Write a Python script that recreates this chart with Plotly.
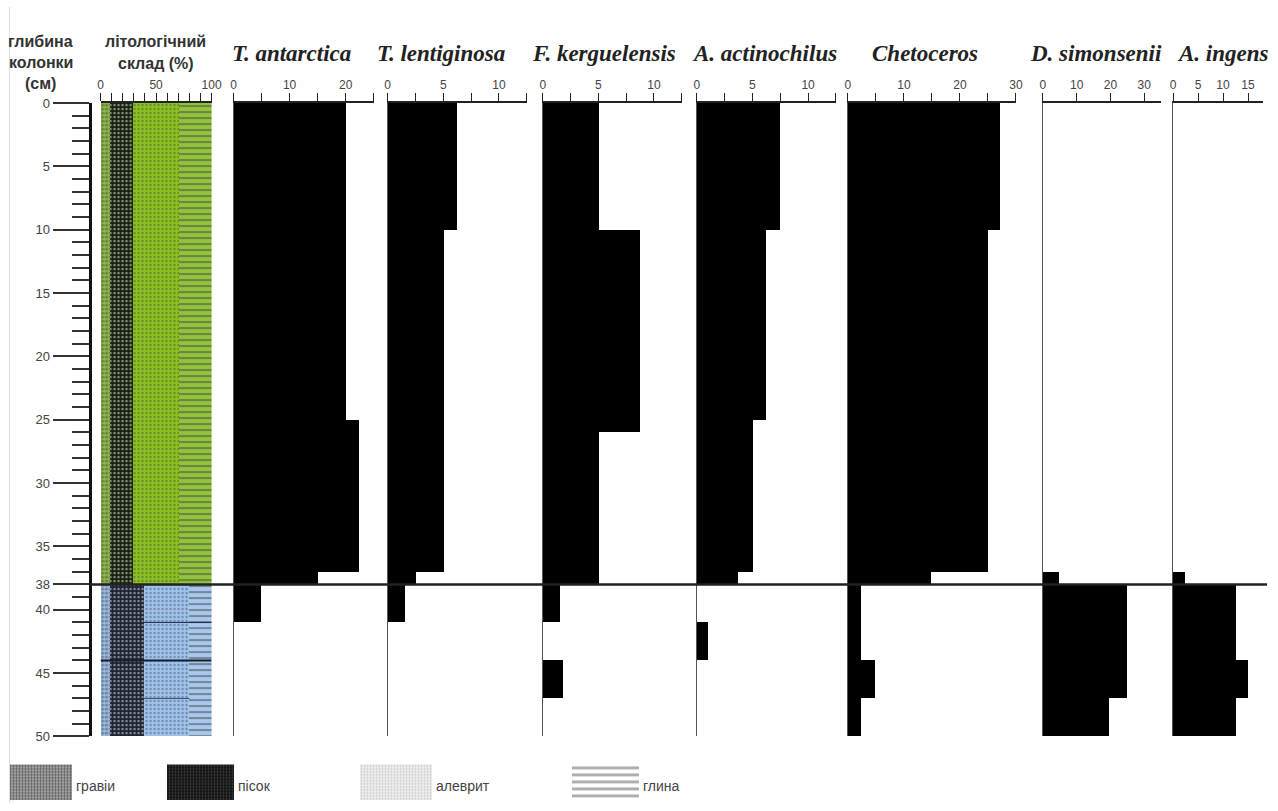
import plotly.graph_objects as go

W, H = 1278, 811
# small correction so that the photographed page lines up with the reference pixels
AX, BX = 0.9894, 2.5
AY, BY = 0.981, 6.96


def fx(p):
    return ((p - BX) / AX) / W


def fy(p):
    return 1 - ((p - BY) / AY) / H


# ---------------- data ----------------
depth_tickvals = [0, 5, 10, 15, 20, 25, 30, 35, 38, 40, 45, 50]
boundary_depth = 38

# lithology (%), two intervals
lith_top = [0, 38]
lith_bottom = [38, 50]
gravel = [8, 8]
sand = [21, 31]
silt = [41, 40]
clay = [30, 21]
lith_names = ["гравіи", "пісок", "алеврит", "глина"]

taxa_names = ["T. antarctica", "T. lentiginosa", "F. kerguelensis", "A. actinochilus",
              "Chetoceros", "D. simonsenii", "A. ingens"]

t_antarctica_top = [0, 25, 37, 38]
t_antarctica_bot = [25, 37, 38, 41]
t_antarctica_val = [20, 22.3, 15, 4.8]

t_lentiginosa_top = [0, 10, 37, 38]
t_lentiginosa_bot = [10, 37, 38, 41]
t_lentiginosa_val = [6.2, 5, 2.5, 1.5]

f_kerguelensis_top = [0, 10, 26, 38, 44]
f_kerguelensis_bot = [10, 26, 38, 41, 47]
f_kerguelensis_val = [5, 8.7, 5, 1.5, 1.8]

a_actinochilus_top = [0, 10, 25, 37, 41]
a_actinochilus_bot = [10, 25, 37, 38, 44]
a_actinochilus_val = [7.5, 6.2, 5, 3.7, 1]

chetoceros_top = [0, 10, 37, 38, 44, 47]
chetoceros_bot = [10, 37, 38, 44, 47, 50]
chetoceros_val = [27.2, 24.9, 14.9, 2.3, 4.8, 2.3]

d_simonsenii_top = [37, 38, 47]
d_simonsenii_bot = [38, 47, 50]
d_simonsenii_val = [4.7, 24.8, 19.6]

a_ingens_top = [37, 38, 44, 47]
a_ingens_bot = [38, 44, 47, 50]
a_ingens_val = [2.4, 12.5, 15, 12.5]

taxa_data = [
    (t_antarctica_top, t_antarctica_bot, t_antarctica_val),
    (t_lentiginosa_top, t_lentiginosa_bot, t_lentiginosa_val),
    (f_kerguelensis_top, f_kerguelensis_bot, f_kerguelensis_val),
    (a_actinochilus_top, a_actinochilus_bot, a_actinochilus_val),
    (chetoceros_top, chetoceros_bot, chetoceros_val),
    (d_simonsenii_top, d_simonsenii_bot, d_simonsenii_val),
    (a_ingens_top, a_ingens_bot, a_ingens_val),
]

# axis tick definitions per taxon
taxa_tickvals = [
    [0, 5, 10, 15, 20, 25],
    [0, 2.5, 5, 7.5, 10, 12.5],
    [0, 2.5, 5, 7.5, 10, 12.5],
    [0, 2.5, 5, 7.5, 10, 12.5],
    [0, 5, 10, 15, 20, 25, 30],
    [0, 10, 20, 30],
    [0, 5, 10, 15],
]
taxa_ticktext = [
    ["0", "", "10", "", "20", ""],
    ["0", "", "5", "", "10", ""],
    ["0", "", "5", "", "10", ""],
    ["0", "", "5", "", "10", ""],
    ["0", "", "10", "", "20", "", "30"],
    ["0", "10", "20", "30"],
    ["0", "5", "10", "15"],
]
taxa_range_max = [25, 12.5, 12.5, 12.5, 30, 35, 18]

# ---------------- layout / style (reference pixels) ----------------
PLOT_TOP, PLOT_BOT = 103, 736
taxa_px = [(233, 373), (387, 526), (542, 681), (696, 835), (847, 1015), (1042, 1160), (1172, 1262)]
taxa_title_x = [291, 440, 603, 764, 924, 1095, 1222]
lith_px = (100, 211)
depth_axis_x = 89

SANS = "Liberation Sans, Arial, sans-serif"
SERIF = "Liberation Serif, Times New Roman, serif"

upper_style = dict(
    gravel=dict(bg="#8dbb45", fg="#18280a", shape=".", size=4, sol=0.5),
    sand=dict(bg="#141f0a", fg="#587d2c", shape=".", size=4, sol=0.3),
    silt=dict(bg="#8cc21e", fg="#5a8a12", shape=".", size=4, sol=0.25),
    clay=dict(bg="#92c43a", fg="#2c5410", shape="-", size=6, sol=0.35),
)
lower_style = dict(
    gravel=dict(bg="#9dbde6", fg="#1a2238", shape=".", size=4, sol=0.5),
    sand=dict(bg="#1a2030", fg="#5b6f94", shape=".", size=4, sol=0.3),
    silt=dict(bg="#9dc3ef", fg="#5c80b8", shape=".", size=4, sol=0.25),
    clay=dict(bg="#a8c8ef", fg="#1f3150", shape="-", size=6, sol=0.35),
)

fig = go.Figure()

# ---- lithology column ----
comps = [("gravel", gravel), ("sand", sand), ("silt", silt), ("clay", clay)]
cum = [0.0] * len(lith_top)
for key, vals in comps:
    mids = [(a + b) / 2 for a, b in zip(lith_top, lith_bottom)]
    thick = [b - a for a, b in zip(lith_top, lith_bottom)]
    styles = [upper_style[key], lower_style[key]]
    fig.add_trace(go.Bar(
        orientation="h", x=vals, y=mids, base=list(cum), width=thick,
        xaxis="x", yaxis="y", showlegend=False, hoverinfo="skip",
        marker=dict(
            color=[s["bg"] for s in styles],
            line=dict(width=0),
            pattern=dict(
                shape=[s["shape"] for s in styles],
                fgcolor=[s["fg"] for s in styles],
                bgcolor=[s["bg"] for s in styles],
                size=[s["size"] for s in styles],
                solidity=[s["sol"] for s in styles],
                fillmode="overlay",
            ),
        ),
    ))
    cum = [c + v for c, v in zip(cum, vals)]

# ---- taxa bars ----
for i, (tops, bots, vals) in enumerate(taxa_data):
    k = i + 2
    fig.add_trace(go.Bar(
        orientation="h", x=vals,
        y=[(a + b) / 2 for a, b in zip(tops, bots)],
        width=[b - a for a, b in zip(tops, bots)],
        base=[0] * len(vals),
        xaxis=f"x{k}", yaxis=f"y{k}", showlegend=False,
        marker=dict(color="black", line=dict(width=0)),
        name=taxa_names[i],
    ))

# ---- legend swatches (hidden axis in reference-pixel units) ----
leg_x = [(9, 71), (166, 233), (359, 431), (571, 638)]
leg_styles = [
    dict(bg="#b8b8b8", fg="#000000", shape=".", size=3, sol=0.5),
    dict(bg="#111111", fg="#707070", shape=".", size=3, sol=0.35),
    dict(bg="#f0f0f0", fg="#a0a0a0", shape=".", size=3, sol=0.35),
    dict(bg="#ffffff", fg="#555555", shape="-", size=7, sol=0.4),
]
for (x0, x1), st, nm in zip(leg_x, leg_styles, lith_names):
    fig.add_trace(go.Bar(
        orientation="h", x=[x1 - x0], base=[x0], y=[0.5], width=[1],
        xaxis="x9", yaxis="y9", showlegend=False, hoverinfo="skip",
        marker=dict(color=st["bg"], line=dict(width=0),
                    pattern=dict(shape=st["shape"], fgcolor=st["fg"], bgcolor=st["bg"],
                                 size=st["size"], solidity=st["sol"], fillmode="overlay")),
    ))

ydom = [fy(PLOT_BOT), fy(PLOT_TOP)]
layout = dict(
    width=W, height=H, autosize=False, margin=dict(l=0, r=0, t=0, b=0, pad=0),
    paper_bgcolor="white", plot_bgcolor="rgba(0,0,0,0)",
    barmode="overlay", bargap=0, showlegend=False,
    font=dict(family=SANS, color="#333", size=12),
)

# lithology x axis
layout["xaxis"] = dict(
    domain=[fx(lith_px[0]), fx(lith_px[1])], range=[0, 100], side="top", anchor="y",
    showline=True, linecolor="#222", linewidth=1.5, ticks="outside", ticklen=8,
    tickwidth=1.2, tickcolor="#222", tickvals=list(range(0, 101, 10)),
    ticktext=["0", "", "", "", "", "50", "", "", "", "", "100"],
    showgrid=False, zeroline=False, fixedrange=True,
    tickfont=dict(size=12, color="#444", family=SANS),
)
layout["yaxis"] = dict(
    domain=ydom, range=[50, 0], anchor="free", position=fx(depth_axis_x), side="left",
    showline=True, linecolor="#111", linewidth=3,
    ticks="outside", ticklen=36, tickwidth=1.5, tickcolor="#333",
    tickvals=depth_tickvals, showgrid=False, zeroline=False,
    tickfont=dict(size=13, color="#444", family=SANS),
    minor=dict(ticks="outside", dtick=1, tick0=0, ticklen=17, tickwidth=1.5,
               tickcolor="#333", showgrid=False),
)

for i in range(7):
    k = i + 2
    x0, x1 = taxa_px[i]
    layout[f"xaxis{k}"] = dict(
        domain=[fx(x0), fx(x1)], range=[0, taxa_range_max[i]], side="top", anchor=f"y{k}",
        showline=True, linecolor="#222", linewidth=1.5, ticks="outside", ticklen=8,
        tickwidth=1.2, tickcolor="#222", tickvals=taxa_tickvals[i],
        ticktext=taxa_ticktext[i], showgrid=False, zeroline=False,
        tickfont=dict(size=12, color="#444", family=SANS),
    )
    layout[f"yaxis{k}"] = dict(
        domain=ydom, range=[50, 0], anchor=f"x{k}", showline=True, linecolor="#555",
        linewidth=1.3, ticks="", showticklabels=False, showgrid=False, zeroline=False,
    )

layout["xaxis9"] = dict(domain=[0, 1], range=[BX, BX + AX * W], visible=False, anchor="y9")
layout["yaxis9"] = dict(domain=[fy(800), fy(764)], range=[0, 1], visible=False, anchor="x9")

annotations = []
# header texts
for txt, x, y in [("глибина", 40, 41), ("колонки", 40, 62), ("(см)", 40, 83),
                  ("літологічний", 155, 41), ("склад (%)", 155, 63)]:
    annotations.append(dict(text=f"<b>{txt}</b>", x=fx(x), y=fy(y), xref="paper", yref="paper",
                            showarrow=False, xanchor="center", yanchor="middle",
                            font=dict(family=SANS, size=16, color="#333")))
for nm, x in zip(taxa_names, taxa_title_x):
    annotations.append(dict(text=f"<b><i>{nm}</i></b>", x=fx(x), y=fy(53), xref="paper",
                            yref="paper", showarrow=False, xanchor="center", yanchor="middle",
                            font=dict(family=SERIF, size=23, color="#222")))
# legend labels
for (x0, x1), nm in zip(leg_x, lith_names):
    annotations.append(dict(text=nm, x=x1 + 2, y=0.4, xref="x9", yref="y9", showarrow=False,
                            xanchor="left", yanchor="middle",
                            font=dict(family=SANS, size=14, color="#444")))
layout["annotations"] = annotations

shapes = [
    # boundary line at 38 cm
    dict(type="line", xref="paper", yref="y", x0=fx(depth_axis_x), x1=fx(1266),
         y0=boundary_depth, y1=boundary_depth, line=dict(color="#222", width=2.5)),
    # lithology internal lines (lower unit)
    dict(type="line", xref="x", yref="y", x0=39, x1=100, y0=41, y1=41,
         line=dict(color="#1a2740", width=1)),
    dict(type="line", xref="x", yref="y", x0=0, x1=100, y0=44, y1=44,
         line=dict(color="#141d30", width=2)),
    dict(type="line", xref="x", yref="y", x0=39, x1=80, y0=47, y1=47,
         line=dict(color="#3a4a66", width=1)),
    # faint frame line at left
    dict(type="line", xref="paper", yref="paper", x0=fx(9), x1=fx(9), y0=0, y1=1,
         line=dict(color="#dddddd", width=1)),
]
layout["shapes"] = shapes

fig.update_layout(**layout)

post = ("document.documentElement.style.margin='0';document.body.style.margin='0';"
        "document.body.style.overflow='hidden';")

fig.write_html("out.html", config={"displayModeBar": False, "responsive": False},
               post_script=post)
